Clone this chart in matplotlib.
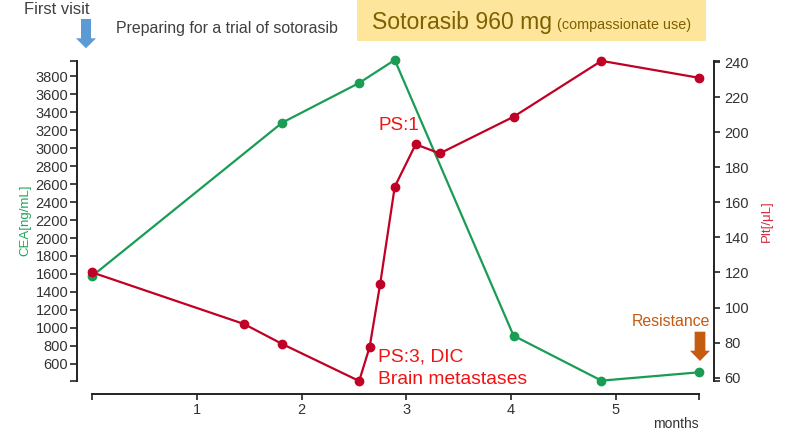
"""
CEA and platelet count over time, with sotorasib course annotations.
"""

import matplotlib
matplotlib.use('Agg')
import matplotlib.pyplot as plt
from matplotlib.patches import Polygon, Rectangle

plt.rcParams['font.family'] = ['Liberation Sans', 'DejaVu Sans']

# data
cea_months = [0, 1.815, 2.55, 2.89, 4.025, 4.865, 5.8]
cea_values = [1578, 3285, 3727, 3983, 913, 412, 505]

plt_months = [0, 1.45, 1.815, 2.55, 2.65, 2.75, 2.89, 3.09, 3.32, 4.025, 4.865, 5.8]
plt_values = [120, 90.6, 79.2, 58.1, 77.5, 113.2, 168.9, 193.1, 187.9, 208.8, 240.7, 231.0]

month_ticks = [0, 1, 2, 3, 4, 5, 5.8]
month_labels = ['', '1', '2', '3', '4', '5', '']
cea_ticks = list(range(600, 3801, 200))
plt_ticks = list(range(60, 241, 20))

GREEN = '#1a9c55'
RED = '#c00024'
TEXT_RED = '#f01414'
TICK_COLOR = '#333333'
W, H = 785, 438


def fx(px):
    return px / W


def fy(py):
    return 1 - py / H


fig = plt.figure(figsize=(W / 100, H / 100), dpi=100)
ax = fig.add_axes([fx(92.3), fy(381), (699.3 - 92.3) / W, (381 - 60.5) / H])
ax.patch.set_alpha(0)

ax.plot(cea_months, cea_values, color=GREEN, lw=1.6, marker='o', ms=6,
        clip_on=False, zorder=3)
ax.set_xlim(0, 5.8)
ax.set_ylim(408, 3977)
ax.set_yticks(cea_ticks)
ax.set_yticks([408, 3977], minor=True)
ax.set_xticks(month_ticks)
ax.set_xticklabels(month_labels)

ax2 = ax.twinx()
ax2.plot(plt_months, plt_values, color=RED, lw=1.6, marker='o', ms=6,
         clip_on=False, zorder=4)
ax2.set_ylim(58.1, 240.9)
ax2.set_yticks(plt_ticks)
ax2.set_yticks([58.1, 240.9], minor=True)

# spines: detached, bracket style
for a in (ax, ax2):
    for s in a.spines.values():
        s.set_visible(False)
        s.set_linewidth(1.4)
        s.set_color('#222222')
ax.spines['left'].set_visible(True)
ax.spines['left'].set_position(('outward', 10.8))
ax.spines['bottom'].set_visible(True)
ax.spines['bottom'].set_position(('outward', 9.6))
ax2.spines['right'].set_visible(True)
ax2.spines['right'].set_position(('outward', 10.9))

ax.tick_params(axis='y', which='both', length=4.8, width=1.2, color='#222222',
               labelsize=10.5, labelcolor=TICK_COLOR, pad=1.7)
ax.tick_params(axis='x', which='both', length=4.5, width=1.2, color='#222222',
               labelsize=10.5, labelcolor=TICK_COLOR, pad=2)
ax2.tick_params(axis='y', which='both', length=4.2, width=1.2, color='#222222',
                labelsize=10.5, labelcolor=TICK_COLOR, pad=3)

# axis titles
fig.text(fx(25), fy(220), 'CEA[ng/mL]', rotation=90, color='#1fa55a',
         fontsize=9.5, ha='center', va='center')
fig.text(fx(767), fy(221), 'Plt[/μL]', rotation=90, color='#d42a3c',
         fontsize=9.5, ha='center', va='center')
fig.text(fx(699), fy(424), 'months', color=TICK_COLOR, fontsize=10,
         ha='right', va='center')

# top annotations
fig.text(fx(24), fy(9), 'First visit', color='#404040', fontsize=11.9,
         ha='left', va='center')
fig.text(fx(116), fy(29), 'Preparing for a trial of sotorasib', color='#404040',
         fontsize=11.4, ha='left', va='center')

fig.patches.append(Rectangle((fx(357), fy(41)), (706 - 357) / W, 41 / H,
                             transform=fig.transFigure, facecolor='#fde59b',
                             edgecolor='none', zorder=0))
fig.text(fx(372), fy(28.7), 'Sotorasib 960 mg', color='#7f6000', fontsize=16.6,
         ha='left', va='baseline')
fig.text(fx(557), fy(28.7), '(compassionate use)', color='#7f6000',
         fontsize=10.4, ha='left', va='baseline')


def down_arrow(cx, top, head_start, tip, shaft_w, head_w, color):
    pts = [(cx - shaft_w / 2, top), (cx + shaft_w / 2, top),
           (cx + shaft_w / 2, head_start), (cx + head_w / 2, head_start),
           (cx, tip), (cx - head_w / 2, head_start),
           (cx - shaft_w / 2, head_start)]
    fig.patches.append(Polygon([(fx(x), fy(y)) for x, y in pts],
                               closed=True, transform=fig.transFigure,
                               facecolor=color, edgecolor='none'))


down_arrow(86, 19, 38.3, 48.3, 10, 20, '#5b9bd5')
down_arrow(700, 331.7, 350.7, 361, 10.7, 20, '#c55a11')

fig.text(fx(671), fy(321), 'Resistance', color='#c55a11', fontsize=11.4,
         ha='center', va='center')

# clinical notes
fig.text(fx(378), fy(126), 'PS:1', color=TEXT_RED, fontsize=13.5,
         ha='left', va='center')
fig.text(fx(378), fy(357), 'PS:3, DIC', color=TEXT_RED, fontsize=13.9,
         ha='left', va='center')
fig.text(fx(378), fy(380), 'Brain metastases', color=TEXT_RED, fontsize=13.9,
         ha='left', va='center')

fig.savefig('out.png', dpi=100)
